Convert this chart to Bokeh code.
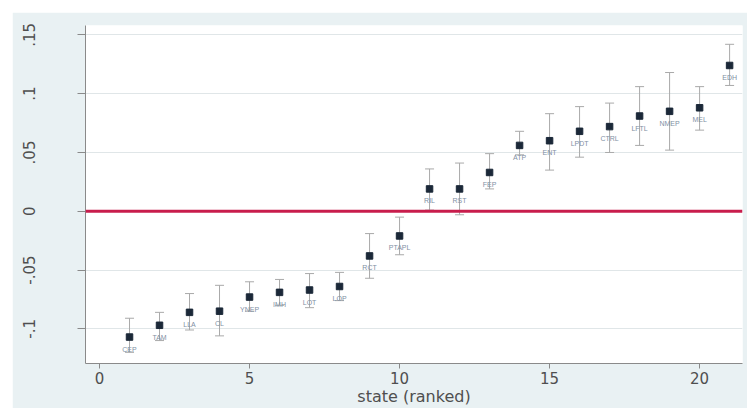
from bokeh.plotting import figure
from bokeh.models import ColumnDataSource, Whisker, TeeHead, Span, FixedTicker, CustomJSTickFormatter, Range1d
from bokeh.embed import file_html
from bokeh.resources import INLINE

# ---- data ----
rank = list(range(1, 22))
estimate = [-0.107, -0.097, -0.086, -0.085, -0.073, -0.069, -0.067, -0.064, -0.038, -0.021,
            0.019, 0.019, 0.033, 0.056, 0.060, 0.068, 0.072, 0.081, 0.085, 0.088, 0.124]
ci_upper = [-0.091, -0.086, -0.070, -0.063, -0.060, -0.058, -0.053, -0.052, -0.019, -0.005,
            0.036, 0.041, 0.049, 0.068, 0.083, 0.089, 0.092, 0.106, 0.118, 0.106, 0.142]
ci_lower = [-0.120, -0.110, -0.101, -0.106, -0.085, -0.080, -0.082, -0.076, -0.057, -0.037,
            0.001, -0.003, 0.019, 0.048, 0.035, 0.046, 0.050, 0.056, 0.052, 0.069, 0.107]
state_labels = ["CEP", "TAM", "LLA", "CL", "YNEP", "IMH", "LOT", "LOP", "RCT", "PTAPL", "RIL",
                "RST", "FEP", "ATP", "ENT", "LPDT", "CTRL", "LFTL", "NMEP", "MEL", "EDH"]
x_ticks = [0, 5, 10, 15, 20]
y_ticks = [-0.1, -0.05, 0, 0.05, 0.1, 0.15]
x_title = "state (ranked)"

src = ColumnDataSource(dict(x=rank, est=estimate, upper=ci_upper, lower=ci_lower, lab=state_labels))

BG = "#e9f1f3"
p = figure(width=735, height=396, output_backend="svg", toolbar_location=None,
           x_range=Range1d(-0.467, 21.43), y_range=Range1d(-0.1295, 0.158),
           background_fill_color="white", border_fill_color=BG,
           min_border_left=73, min_border_top=13, min_border_right=5, min_border_bottom=45)
p.margin = (12, 0, 0, 12)
p.outline_line_color = None

# grid
p.xgrid.grid_line_color = None
p.ygrid.grid_line_color = "#e0e6e8"
p.ygrid.grid_line_width = 1

# axes
p.xaxis.ticker = FixedTicker(ticks=x_ticks)
p.yaxis.ticker = FixedTicker(ticks=y_ticks)
p.yaxis.formatter = CustomJSTickFormatter(code="""
let s = tick.toFixed(2).replace(/0+$/, '').replace(/\\.$/, '');
return s.replace('0.', '.');
""")
for ax in (p.xaxis, p.yaxis):
    ax.axis_line_color = "#8a8a8a"
    ax.major_tick_line_color = "#8a8a8a"
    ax.minor_tick_line_color = None
    ax.major_tick_in = 0
    ax.major_label_text_color = "#4f4f4f"
    ax.major_label_text_font = "DejaVu Sans"
    ax.major_label_text_font_size = "15px"
p.yaxis.major_tick_out = 8
p.yaxis.major_label_orientation = "vertical"
p.yaxis.major_label_standoff = 42
p.xaxis.major_tick_out = 5
p.xaxis.major_label_standoff = 3
p.xaxis.axis_label = x_title
p.xaxis.axis_label_text_font = "DejaVu Sans"
p.xaxis.axis_label_text_font_size = "16px"
p.xaxis.axis_label_text_font_style = "normal"
p.xaxis.axis_label_text_color = "#4f4f4f"
p.xaxis.axis_label_standoff = 0

# zero line
p.add_layout(Span(location=0, dimension="width", line_color="#c81d4c", line_width=3))

# error bars
bar_col = "#a9a9a9"
w = Whisker(base="x", upper="upper", lower="lower", source=src, line_color=bar_col, line_width=1,
            upper_head=TeeHead(size=9, line_color=bar_col, line_width=1),
            lower_head=TeeHead(size=9, line_color=bar_col, line_width=1))
p.add_layout(w)

# labels under points
p.text(x="x", y="est", text="lab", source=src, y_offset=12, text_align="center",
       text_baseline="middle", text_font_size="7px", text_color="#7f90a4")

# point estimates
p.scatter(x="x", y="est", source=src, marker="square", size=6.5, fill_color="#1b2838",
          line_color="#1b2838")

open("out.html", "w").write(file_html(p, INLINE))
